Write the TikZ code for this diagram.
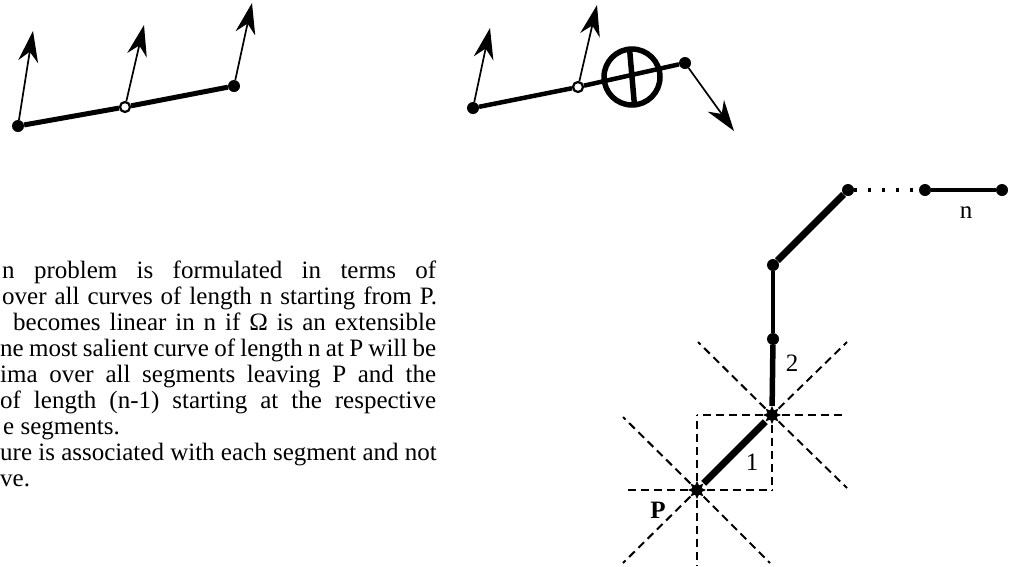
\documentclass[tikz,border=0pt]{standalone}
\usepackage{fontspec}
\setmainfont{Liberation Serif}
\usetikzlibrary{arrows.meta,shapes.geometric}
\begin{document}
\begin{tikzpicture}[x=1pt,y=-1pt,
  dot/.style={circle,fill=black,inner sep=0pt,minimum size=12pt},
  opendot/.style={circle,draw=black,fill=white,line width=2.2pt,inner sep=0pt,minimum size=10pt},
  knot/.style={star,star points=8,star point ratio=1.8,fill=black,inner sep=0pt,minimum size=18pt},
  ring/.style={circle,draw=black,line width=5.5pt,inner sep=0pt,outer sep=0pt,minimum size=56pt},
  arr/.style={line width=1.7pt,-{Stealth[length=31pt,width=20pt,inset=10pt]}},
  ray/.style={line width=2pt,dash pattern=on 8pt off 5pt},
  txt/.style={font=\fontsize{25}{26}\selectfont,inner sep=0pt,anchor=base west},
  lbl/.style={font=\fontsize{25}{26}\selectfont,inner sep=0pt}]
\useasboundingbox (0,0) rectangle (1015,566);
\node[dot] (a1) at (18,126) {};
\node[opendot] (a2) at (125,107) {};
\node[dot] (a3) at (234,86) {};
\coordinate (ta1) at (33,31);
\coordinate (ta2) at (144,25);
\coordinate (ta3) at (252,3);
\draw[line width=5pt] (a1) -- (a2) -- (a3);
\draw[arr] (a1) -- (ta1);
\draw[arr] (a2) -- (ta2);
\draw[arr] (a3) -- (ta3);
\node[dot] (b1) at (473,108) {};
\node[opendot] (b2) at (578,87) {};
\node[ring] (bc) at (632,77) {};
\node[dot] (b3) at (685,63) {};
\coordinate (tb1) at (490,28);
\coordinate (tb2) at (597,5);
\coordinate (tb3) at (734,131);
\draw[line width=4.5pt] (b1) -- (b2) -- (b3);
\draw[line width=5.5pt] (bc.95) -- (bc.275);
\draw[arr] (b1) -- (tb1);
\draw[arr] (b2) -- (tb2);
\draw[arr] (b3) -- (tb3);
\node[txt] (l1) at (2,278) {\makebox[434pt][s]{n problem is formulated in terms of}};
\node[txt] (l2) at (2,304) {\makebox[435pt][s]{over all curves of length n starting from P.}};
\node[txt] (l3) at (13,330) {\makebox[423pt][s]{becomes linear in n if Ω is an extensible}};
\node[txt] (l4) at (0,356) {\makebox[436pt][s]{ne most salient curve of length n at P will be}};
\node[txt] (l5) at (0,382) {\makebox[436pt][s]{ima over all segments leaving P and the}};
\node[txt] (l6) at (0,408) {\makebox[436pt][s]{of length (n-1) starting at the respective}};
\node[txt] (l7) at (3,434) {e segments.};
\node[txt] (l8) at (0,460) {ure is associated with each segment and not};
\node[txt] (l9) at (0,486) {ve.};
\node[knot] (p) at (697,490) {};
\node[knot] (q) at (772,415) {};
\node[dot] (r) at (773,339) {};
\node[dot] (s) at (773,265) {};
\node[dot] (t) at (848,190) {};
\node[dot] (u) at (925,190) {};
\node[dot] (v) at (1002,190) {};
\foreach \dx/\dy in {75/0,-74/0,0/-75,0/76,-74/-73,73/73,-74/73}
  \draw[ray] (p) -- ++(\dx,\dy);
\foreach \dx/\dy in {74/0,-75/0,0/75,75/-73,-74/-73,75/73}
  \draw[ray] (q) -- ++(\dx,\dy);
\draw[line width=7pt] (p) -- (q);
\draw[line width=5.5pt] (q) -- (r);
\draw[line width=4pt] (r) -- (s);
\draw[line width=7pt] (s) -- (t);
\draw[line width=3.5pt,dash pattern=on 3pt off 11pt] (t) -- (u);
\draw[line width=4.5pt] (u) -- (v);
\node[lbl] (n1) at (752,462) {1};
\node[lbl] (n2) at (792,363) {2};
\node[lbl] (nn) at (966,213) {n};
\node[lbl] (np) at (658,510) {\textbf{P}};
\end{tikzpicture}
\end{document}
